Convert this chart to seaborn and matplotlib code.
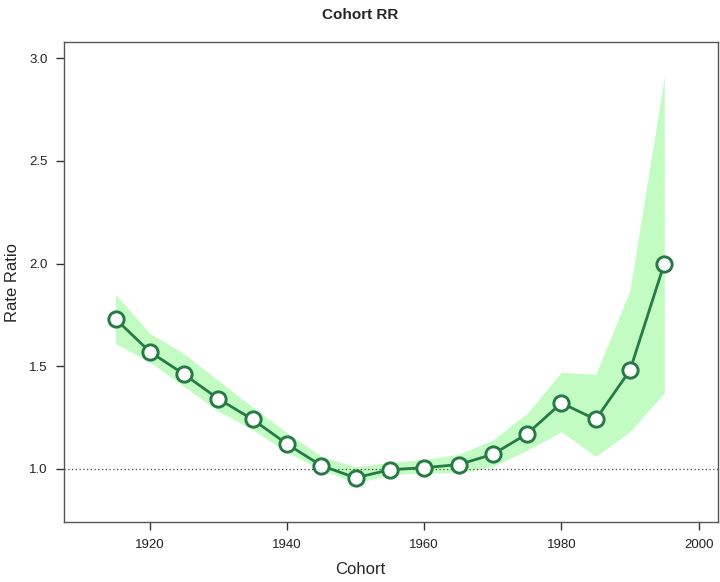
import matplotlib
matplotlib.use("Agg")
import matplotlib.pyplot as plt
import seaborn as sns
import pandas as pd

cohort = [1915, 1920, 1925, 1930, 1935, 1940, 1945, 1950, 1955, 1960, 1965, 1970, 1975, 1980, 1985, 1990, 1995]
rr = [1.73, 1.57, 1.46, 1.34, 1.24, 1.12, 1.015, 0.956, 0.995, 1.005, 1.02, 1.07, 1.17, 1.32, 1.24, 1.48, 2.0]
rr_low = [1.61, 1.52, 1.40, 1.28, 1.19, 1.08, 0.995, 0.93, 0.97, 0.98, 0.98, 1.01, 1.09, 1.18, 1.06, 1.18, 1.37]
rr_high = [1.85, 1.66, 1.56, 1.43, 1.30, 1.175, 1.06, 1.01, 1.03, 1.045, 1.07, 1.14, 1.27, 1.47, 1.46, 1.87, 2.91]
xticks = [1920, 1940, 1960, 1980, 2000]
yticks = [1.0, 1.5, 2.0, 2.5, 3.0]

df = pd.DataFrame({"Cohort": cohort, "RR": rr, "low": rr_low, "high": rr_high})

sns.set_style("white")
plt.rcParams["font.family"] = ["Liberation Sans", "DejaVu Sans"]

fig = plt.figure(figsize=(7.2, 5.82), dpi=100)
ax = fig.add_axes([0.089, 0.103, 0.908, 0.825])

ax.fill_between(df["Cohort"], df["low"], df["high"], color="#c2fcc2", linewidth=0, zorder=1)
ax.axhline(1.0, color="#444444", linestyle=(0, (1, 2)), linewidth=0.9, zorder=2)
sns.lineplot(data=df, x="Cohort", y="RR", ax=ax, color="#257a45", linewidth=2.0,
             marker="o", markersize=11, markerfacecolor="white", markeredgecolor="#257a45",
             markeredgewidth=2.1, zorder=3)

ax.set_xlim(1907.5, 2002.8)
ax.set_ylim(0.74, 3.08)
ax.set_xticks(xticks)
ax.set_xticklabels([str(t) for t in xticks])
ax.set_yticks(yticks)
ax.set_yticklabels([f"{t:.1f}" for t in yticks])
ax.tick_params(axis="both", direction="out", length=6, width=1, labelsize=9.5, color="#333333",
               labelcolor="#222222", pad=6, bottom=True, left=True)
for s in ax.spines.values():
    s.set_color("#555555")
    s.set_linewidth(1.0)

ax.set_xlabel("")
ax.set_ylabel("")
fig.text(0.5, 0.022, "Cohort", ha="center", va="center", fontsize=12)
fig.text(0.018, 0.515, "Rate Ratio", ha="center", va="center", rotation=90, fontsize=12)
fig.text(0.5, 0.975, "Cohort RR", ha="center", va="center", fontsize=11, fontweight="bold")

fig.savefig("out.png", dpi=100)
